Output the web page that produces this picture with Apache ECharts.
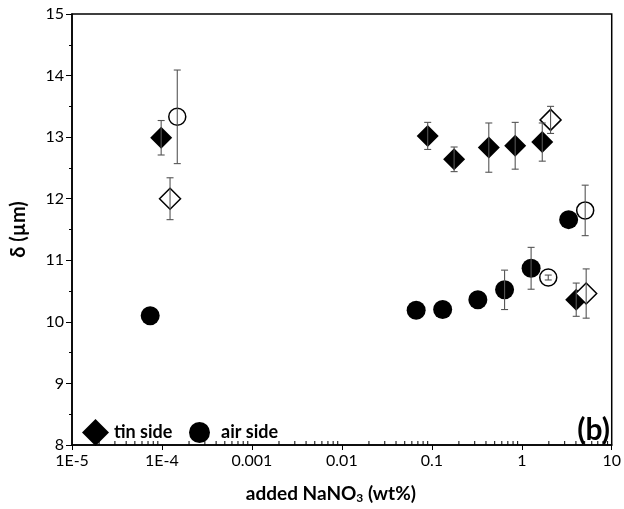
<!DOCTYPE html>
<html>
<head>
<meta charset="utf-8">
<script src="https://cdn.jsdelivr.net/npm/echarts@6/dist/echarts.min.js"></script>
<style>
  html, body { margin: 0; padding: 0; background: #fff; }
  #chart { width: 624px; height: 509px; }
</style>
</head>
<body>
<div id="chart"></div>
<script>
// Film thickness δ versus added NaNO3, tin side and air side
const xTickLabels = ['1E-5', '1E-4', '0.001', '0.01', '0.1', '1', '10'];

// tin side, filled diamonds
const tinX   = [9.8e-5, 0.090, 0.177, 0.43, 0.845, 1.69, 4.03];
const tinY   = [12.99, 13.02, 12.64, 12.83, 12.86, 12.92, 10.36];
const tinErr = [0.28, 0.22, 0.20, 0.40, 0.38, 0.31, 0.27];

// air side, filled circles
const airX   = [7.4e-5, 0.067, 0.132, 0.325, 0.644, 1.27, 3.32];
const airY   = [10.10, 10.19, 10.20, 10.36, 10.52, 10.87, 11.66];
const airErr = [0, 0, 0, 0, 0.32, 0.34, 0];

// tin side, open diamonds
const tinOpenX   = [1.23e-4, 2.09, 5.2];
const tinOpenY   = [12.00, 13.28, 10.46];
const tinOpenErr = [0.34, 0.22, 0.40];

// air side, open circles
const airOpenX   = [1.48e-4, 1.97, 5.07];
const airOpenY   = [13.33, 10.72, 11.81];
const airOpenErr = [0.76, 0.04, 0.41];

const FONT = 'Lato';

function pts(xs, ys) { return xs.map((x, i) => [x, ys[i]]); }
function bars(xs, ys, es) {
  const out = [];
  xs.forEach((x, i) => { if (es[i] > 0) out.push([x, ys[i], es[i]]); });
  return out;
}

// minor tick positions on the log axis (2..9 within each decade)
const minorX = [];
for (let e = -5; e <= 0; e++) {
  for (let k = 2; k <= 9; k++) minorX.push([k * Math.pow(10, e), 8]);
}

function renderErr(params, api) {
  const x = api.value(0), y = api.value(1), e = api.value(2);
  const t = api.coord([x, y + e]);
  const b = api.coord([x, y - e]);
  const c = 3.5;
  const st = { stroke: '#555', lineWidth: 1.1 };
  return {
    type: 'group',
    children: [
      { type: 'line', shape: { x1: t[0], y1: t[1], x2: b[0], y2: b[1] }, style: st },
      { type: 'line', shape: { x1: t[0] - c, y1: t[1], x2: t[0] + c, y2: t[1] }, style: st },
      { type: 'line', shape: { x1: b[0] - c, y1: b[1], x2: b[0] + c, y2: b[1] }, style: st }
    ]
  };
}

function renderMinor(params, api) {
  const p = api.coord([api.value(0), api.value(1)]);
  return {
    type: 'line',
    shape: { x1: p[0], y1: p[1], x2: p[0], y2: p[1] - 4 },
    style: { stroke: '#000', lineWidth: 1 }
  };
}

const legendText = { fontFamily: FONT, fontSize: 18, fontWeight: 'bold', color: '#000' };

const chart = echarts.init(document.getElementById('chart'), null, { renderer: 'canvas' });

chart.setOption({
  backgroundColor: '#fff',
  animation: false,
  textStyle: { fontFamily: FONT },
  grid: {
    left: 72, right: 7, top: 14, bottom: 57,
    show: true, borderColor: '#000', borderWidth: 1.5, backgroundColor: 'transparent'
  },
  title: {
    text: '(b)',
    right: 9, top: 410,
    textStyle: { fontFamily: FONT, fontSize: 30, fontWeight: 'bold', color: '#000' }
  },
  legend: [
    {
      left: 82, top: 419, padding: 0,
      itemWidth: 27, itemHeight: 27,
      data: [{ name: 'tin side', icon: 'diamond', itemStyle: { color: '#000', opacity: 1 } }],
      textStyle: legendText
    },
    {
      left: 189, top: 422, padding: 0,
      itemWidth: 21, itemHeight: 21,
      data: [{ name: 'air side', icon: 'circle', itemStyle: { color: '#000', opacity: 1 } }],
      textStyle: Object.assign({ padding: [0, 0, 0, 6] }, legendText)
    }
  ],
  xAxis: {
    type: 'log', logBase: 10, min: 1e-5, max: 10,
    name: '{b|added NaNO}{s|3}{b| (wt%)}',
    nameLocation: 'middle', nameGap: 38,
    nameTextStyle: {
      padding: [0, 22, 0, 0],
      rich: {
        b: { fontFamily: FONT, fontSize: 19, fontWeight: 'bold', color: '#000' },
        s: { fontFamily: FONT, fontSize: 12, fontWeight: 'bold', color: '#000', verticalAlign: 'bottom', padding: [9, 0, 0, 0] }
      }
    },
    axisLine: { show: true, onZero: false, lineStyle: { color: '#000', width: 1.5 } },
    axisTick: { show: true, inside: false, length: 5, lineStyle: { color: '#000', width: 1 } },
    minorTick: { show: false },
    splitLine: { show: false },
    axisLabel: {
      fontFamily: FONT, fontSize: 16, color: '#000', margin: 8,
      formatter: v => xTickLabels[Math.round(Math.log10(v)) + 5]
    }
  },
  yAxis: {
    type: 'value', min: 8, max: 15, interval: 1,
    name: 'δ (µm)',
    nameLocation: 'middle', nameGap: 43,
    nameTextStyle: { fontFamily: FONT, fontSize: 20, fontWeight: 'bold', color: '#000' },
    axisLine: { show: true, onZero: false, lineStyle: { color: '#000', width: 1.5 } },
    axisTick: { show: true, inside: false, length: 6, lineStyle: { color: '#000', width: 1 } },
    minorTick: { show: true, splitNumber: 2, length: 3, lineStyle: { color: '#000', width: 1 } },
    splitLine: { show: false },
    axisLabel: { fontFamily: FONT, fontSize: 16, color: '#000', margin: 8 }
  },
  series: [
    {
      name: 'minor', type: 'custom', renderItem: renderMinor, clip: false,
      data: minorX, encode: { x: 0, y: 1 }, silent: true, z: 5
    },
    {
      name: 'tin side', type: 'scatter', symbol: 'diamond', symbolSize: 22,
      itemStyle: { color: '#000', opacity: 1 }, data: pts(tinX, tinY), z: 2
    },
    {
      name: 'air side', type: 'scatter', symbol: 'circle', symbolSize: 19,
      itemStyle: { color: '#000', opacity: 1 }, data: pts(airX, airY), z: 2
    },
    {
      name: 'tin side (open)', type: 'scatter', symbol: 'diamond', symbolSize: 21,
      itemStyle: { color: '#fff', borderColor: '#000', borderWidth: 1.5, opacity: 1 },
      data: pts(tinOpenX, tinOpenY), z: 3
    },
    {
      name: 'air side (open)', type: 'scatter', symbol: 'circle', symbolSize: 17,
      itemStyle: { color: '#fff', borderColor: '#000', borderWidth: 1.5, opacity: 1 },
      data: pts(airOpenX, airOpenY), z: 3
    },
    {
      name: 'err', type: 'custom', renderItem: renderErr, clip: false, silent: true, z: 4,
      encode: { x: 0, y: 1 },
      data: [].concat(
        bars(tinX, tinY, tinErr),
        bars(airX, airY, airErr),
        bars(tinOpenX, tinOpenY, tinOpenErr),
        bars(airOpenX, airOpenY, airOpenErr)
      )
    }
  ]
});
</script>
</body>
</html>
